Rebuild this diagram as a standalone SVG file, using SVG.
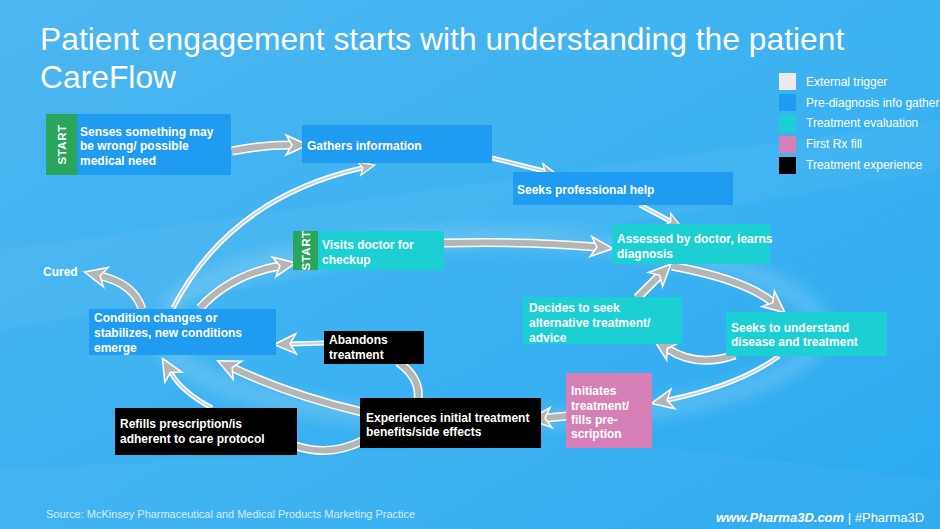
<svg xmlns="http://www.w3.org/2000/svg" width="940" height="529" viewBox="0 0 940 529">
<defs>
<linearGradient id="bg" x1="0" y1="0" x2="1" y2="1">
<stop offset="0" stop-color="#4cb6f0"/>
<stop offset="0.5" stop-color="#3db2f1"/>
<stop offset="1" stop-color="#2aaaf0"/>
</linearGradient>
<filter id="blur" x="-20%" y="-50%" width="140%" height="200%"><feGaussianBlur stdDeviation="9"/></filter>
<marker id="hb" viewBox="-7 -13 28 26" markerWidth="28" markerHeight="26" refX="0" refY="0" orient="auto" markerUnits="userSpaceOnUse">
<path d="M-5,-10 L17,0 L-5,10 L1,0 z" fill="#b5b5b5" stroke="#ffffff" stroke-width="1.5" stroke-linejoin="miter"/>
</marker>
<marker id="hs" viewBox="-6 -10 22 20" markerWidth="22" markerHeight="20" refX="0" refY="0" orient="auto" markerUnits="userSpaceOnUse">
<path d="M-3,-7 L13,0 L-3,7 L1,0 z" fill="#b5b5b5" stroke="#ffffff" stroke-width="1.2"/>
</marker>
<style>
.t{font-family:"Liberation Sans",Arial,sans-serif;font-weight:bold;font-size:12px;fill:#ffffff}
.st{font-family:"Liberation Sans",Arial,sans-serif;font-weight:bold;font-size:11.5px;fill:#ffffff;letter-spacing:0.5px}
.lg{font-family:"Liberation Sans",Arial,sans-serif;font-size:12px;fill:#ffffff}
.bo{fill:none;stroke:#ffffff;stroke-width:9}
.bi{fill:none;stroke:#b5b5b5;stroke-width:6}
.so{fill:none;stroke:#ffffff;stroke-width:5}
.si{fill:none;stroke:#bcd3e3;stroke-width:1.8}
.blue{fill:#1f9bf2}
.teal{fill:#1ccfd3}
.green{fill:#2aa65c}
.pink{fill:#d67fb6}
.blk{fill:#000000}
</style>
</defs>
<rect width="940" height="529" fill="url(#bg)"/>
<path d="M0,250 L940,120 L940,170 L0,330 z" fill="#ffffff" opacity="0.04"/>
<path d="M0,470 L600,440 L940,480 L940,529 L0,529 z" fill="#ffffff" opacity="0.03"/>
<ellipse cx="490" cy="330" rx="330" ry="92" fill="none" stroke="#ffffff" stroke-width="12" opacity="0.28" filter="url(#blur)"/>

<g id="title">
<text x="40" y="50" font-family="Liberation Sans,Arial,sans-serif" font-size="31.8" fill="#ffffff">Patient engagement starts with understanding the patient</text>
<text x="40" y="88" font-family="Liberation Sans,Arial,sans-serif" font-size="31.8" fill="#ffffff">CareFlow</text>
</g>

<g id="legend">
<rect x="779" y="73" width="17" height="17" fill="#ebebeb"/>
<rect x="779" y="94" width="17" height="17" fill="#1f9bf2"/>
<rect x="779" y="115" width="17" height="17" fill="#1ccfd3"/>
<rect x="779" y="136" width="17" height="17" fill="#d67fb6"/>
<rect x="779" y="157" width="17" height="17" fill="#000000"/>
<text class="lg" x="806" y="86">External trigger</text>
<text class="lg" x="806" y="107">Pre-diagnosis info gathering</text>
<text class="lg" x="806" y="127">Treatment evaluation</text>
<text class="lg" x="806" y="148">First Rx fill</text>
<text class="lg" x="806" y="169">Treatment experience</text>
</g>

<g id="connectors">
<path class="bo" d="M232,151 Q262,145 291,145"/>
<path class="bi" d="M232,151 Q262,145 291,145" marker-end="url(#hb)"/>
<path class="so" d="M492,158 L544,171"/>
<path class="si" d="M492,158 L544,171" marker-end="url(#hs)"/>
<path class="so" d="M640,205 L670,221"/>
<path class="si" d="M640,205 L670,221" marker-end="url(#hs)"/>
<path class="bo" d="M444,243 Q530,241 596,247"/>
<path class="bi" d="M444,243 Q530,241 596,247" marker-end="url(#hb)"/>
<path class="bo" d="M672,266 C720,275 755,288 772,302"/>
<path class="bi" d="M672,266 C720,275 755,288 772,302" marker-end="url(#hb)"/>
<path class="bo" d="M637,298 L659,276"/>
<path class="bi" d="M637,298 L659,276" marker-end="url(#hb)"/>
<path class="bo" d="M735,355 Q697,368 668,349"/>
<path class="bi" d="M735,355 Q697,368 668,349" marker-end="url(#hb)"/>
<path class="so" d="M779,356 Q740,385 668,400"/>
<path class="si" d="M779,356 Q740,385 668,400" marker-end="url(#hb)"/>
<path class="bo" d="M567,416 L546,418"/>
<path class="bi" d="M567,416 L546,418" marker-end="url(#hb)"/>
<path class="bo" d="M362,412 Q290,395 233,368"/>
<path class="bi" d="M362,412 Q290,395 233,368" marker-end="url(#hb)"/>
<path class="so" d="M324,343 L291,344"/>
<path class="si" d="M324,343 L291,344" marker-end="url(#hb)"/>
<path class="bo" d="M398,362 Q421,378 418,400"/>
<path class="bi" d="M398,362 Q421,378 418,400"/>
<path class="bo" d="M296,446 Q330,457 362,441"/>
<path class="bi" d="M296,446 Q330,457 362,441"/>
<path class="so" d="M212,408 Q182,392 171,373"/>
<path class="si" d="M212,408 Q182,392 171,373" marker-end="url(#hb)"/>
<path class="bo" d="M142,309 Q134,284 101,276"/>
<path class="bi" d="M142,309 Q134,284 101,276" marker-end="url(#hb)"/>
<path class="so" d="M173,308 Q230,198 362,168"/>
<path class="si" d="M173,308 Q230,198 362,168" marker-end="url(#hs)"/>
<path class="bo" d="M200,308 Q230,275 279,266"/>
<path class="bi" d="M200,308 Q230,275 279,266" marker-end="url(#hb)"/>
</g>

<g id="n-senses">
<rect class="green" x="46" y="114" width="31" height="61"/>
<text class="st" transform="translate(66,144.5) rotate(-90)" text-anchor="middle">START</text>
<rect class="blue" x="77" y="114" width="154" height="61"/>
<text class="t" x="80" y="136">Senses something may</text>
<text class="t" x="80" y="150">be wrong/ possible</text>
<text class="t" x="80" y="165">medical need</text>
</g>
<g id="n-gathers">
<rect class="blue" x="302" y="125" width="190" height="38"/>
<text class="t" x="307" y="150">Gathers information</text>
</g>
<g id="n-seekshelp">
<rect class="blue" x="513" y="172" width="220" height="33"/>
<text class="t" x="517" y="194">Seeks professional help</text>
</g>
<g id="n-assessed">
<rect class="teal" x="612" y="224" width="158" height="40"/>
<text class="t" x="617" y="243">Assessed by doctor, learns</text>
<text class="t" x="617" y="258">diagnosis</text>
</g>
<g id="n-visits">
<rect class="green" x="293" y="231" width="25" height="39"/>
<text class="st" transform="translate(309.5,250.5) rotate(-90)" text-anchor="middle">START</text>
<rect class="teal" x="318" y="231" width="126" height="39"/>
<text class="t" x="322" y="249">Visits doctor for</text>
<text class="t" x="322" y="264">checkup</text>
</g>
<g id="n-decides">
<rect class="teal" x="523" y="297" width="159" height="47"/>
<text class="t" x="529" y="312">Decides to seek</text>
<text class="t" x="529" y="327">alternative treatment/</text>
<text class="t" x="529" y="342">advice</text>
</g>
<g id="n-understand">
<rect class="teal" x="726" y="312" width="161" height="44"/>
<text class="t" x="731" y="332">Seeks to understand</text>
<text class="t" x="731" y="346">disease and treatment</text>
</g>
<g id="n-initiates">
<rect class="pink" x="566" y="373" width="86" height="75"/>
<text class="t" x="571" y="395">Initiates</text>
<text class="t" x="571" y="410">treatment/</text>
<text class="t" x="571" y="424">fills pre-</text>
<text class="t" x="571" y="438">scription</text>
</g>
<g id="n-experiences">
<rect class="blk" x="360" y="398" width="181" height="50"/>
<text class="t" x="366" y="422">Experiences initial treatment</text>
<text class="t" x="366" y="436">benefits/side effects</text>
</g>
<g id="n-refills">
<rect class="blk" x="115" y="408" width="182" height="47"/>
<text class="t" x="120" y="428">Refills prescription/is</text>
<text class="t" x="120" y="443">adherent to care protocol</text>
</g>
<g id="n-abandons">
<rect class="blk" x="324" y="331" width="100" height="33"/>
<text class="t" x="329" y="344">Abandons</text>
<text class="t" x="329" y="359">treatment</text>
</g>
<g id="n-condition">
<rect class="blue" x="89" y="309" width="187" height="46"/>
<text class="t" x="94" y="322">Condition changes or</text>
<text class="t" x="94" y="337">stabilizes, new conditions</text>
<text class="t" x="94" y="352">emerge</text>
</g>
<g id="n-cured">
<text class="t" x="43" y="276">Cured</text>
</g>

<g id="footer">
<text x="46" y="518" font-family="Liberation Sans,Arial,sans-serif" font-size="10.5" fill="#d6eefb" textLength="369" lengthAdjust="spacingAndGlyphs">Source: McKinsey Pharmaceutical and Medical Products Marketing Practice</text>
<text x="716" y="522" font-family="Liberation Sans,Arial,sans-serif" font-size="13" fill="#ffffff"><tspan font-weight="bold" font-style="italic">www.Pharma3D.com</tspan> | #Pharma3D</text>
</g>
</svg>
